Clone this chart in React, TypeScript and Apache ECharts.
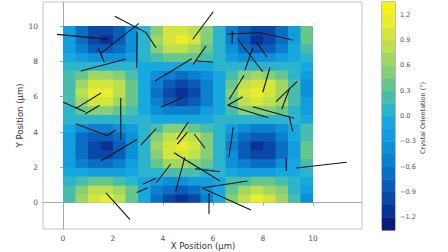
import { useEffect, useRef } from "react";
import * as echarts from "echarts";

const X_TICKS = [0, 2, 4, 6, 8, 10];
const Y_TICKS = [0, 2, 4, 6, 8, 10];
const CBAR_TICKS = [-1.2, -0.9, -0.6, -0.3, 0, 0.3, 0.6, 0.9, 1.2];
const LEVELS = [-1.35, -1.2, -1.05, -0.9, -0.75, -0.6, -0.45, -0.3, -0.15, 0, 0.15, 0.3, 0.45, 0.6, 0.75, 0.9, 1.05, 1.2, 1.35];
const BAND_COLORS = [
  "#0a1c78", "#0a3296", "#0a48a8", "#0a5cb8", "#0a6ec4", "#0a80cf", "#0c90d8", "#129ede", "#18a8e0",
  "#2cb4cc", "#48bdac", "#66c68c", "#86cf78", "#a2d664", "#bde050", "#d4e63e", "#e8ee2c", "#f3f31b",
];
const CELL = 0.5;
// rows from y = 0 (bottom) to y = 10 (top), columns from x = 0 to x = 10
const FIELD = [
  [0.27, 0.73, 1.02, 1.05, 0.83, 0.41, -0.12, -0.61, -0.96, -1.07, -0.92, -0.55, -0.03, 0.48, 0.88, 1.07, 0.98, 0.67, 0.18, -0.34],
  [0.2, 0.54, 0.76, 0.78, 0.62, 0.3, -0.09, -0.46, -0.72, -0.8, -0.69, -0.41, -0.02, 0.36, 0.66, 0.8, 0.74, 0.5, 0.14, -0.26],
  [0.09, 0.24, 0.33, 0.34, 0.27, 0.13, -0.04, -0.2, -0.32, -0.35, -0.3, -0.18, -0.01, 0.16, 0.29, 0.35, 0.32, 0.22, 0.06, -0.11],
  [-0.05, -0.14, -0.19, -0.2, -0.16, -0.08, 0.02, 0.11, 0.18, 0.2, 0.17, 0.1, 0.01, -0.09, -0.16, -0.2, -0.18, -0.13, -0.03, 0.06],
  [-0.17, -0.47, -0.66, -0.68, -0.54, -0.26, 0.08, 0.39, 0.62, 0.69, 0.59, 0.35, 0.02, -0.31, -0.57, -0.69, -0.63, -0.43, -0.12, 0.22],
  [-0.25, -0.69, -0.96, -0.99, -0.79, -0.38, 0.11, 0.58, 0.91, 1.01, 0.87, 0.52, 0.03, -0.45, -0.83, -1.01, -0.93, -0.64, -0.17, 0.32],
  [-0.27, -0.74, -1.04, -1.07, -0.85, -0.41, 0.12, 0.62, 0.98, 1.09, 0.94, 0.56, 0.03, -0.49, -0.89, -1.09, -1.0, -0.69, -0.19, 0.35],
  [-0.23, -0.61, -0.86, -0.88, -0.7, -0.34, 0.1, 0.51, 0.81, 0.9, 0.77, 0.46, 0.03, -0.41, -0.74, -0.9, -0.83, -0.57, -0.15, 0.29],
  [-0.13, -0.34, -0.48, -0.49, -0.39, -0.19, 0.06, 0.29, 0.45, 0.5, 0.43, 0.26, 0.02, -0.23, -0.41, -0.5, -0.46, -0.32, -0.09, 0.16],
  [0.01, 0.03, 0.04, 0.04, 0.03, 0.02, 0.0, -0.02, -0.04, -0.04, -0.03, -0.02, 0.0, 0.02, 0.03, 0.04, 0.04, 0.03, 0.01, -0.01],
  [0.14, 0.38, 0.53, 0.55, 0.44, 0.21, -0.06, -0.32, -0.5, -0.56, -0.48, -0.29, -0.02, 0.25, 0.46, 0.56, 0.52, 0.35, 0.1, -0.18],
  [0.24, 0.65, 0.9, 0.93, 0.74, 0.36, -0.1, -0.54, -0.86, -0.95, -0.82, -0.48, -0.03, 0.43, 0.78, 0.95, 0.87, 0.6, 0.16, -0.3],
  [0.28, 0.75, 1.05, 1.08, 0.86, 0.42, -0.12, -0.63, -0.99, -1.1, -0.95, -0.56, -0.03, 0.5, 0.9, 1.1, 1.01, 0.69, 0.19, -0.35],
  [0.25, 0.67, 0.93, 0.96, 0.76, 0.37, -0.11, -0.56, -0.88, -0.98, -0.84, -0.5, -0.03, 0.44, 0.8, 0.98, 0.9, 0.62, 0.17, -0.31],
  [0.16, 0.43, 0.6, 0.62, 0.49, 0.24, -0.07, -0.36, -0.57, -0.63, -0.54, -0.32, -0.02, 0.28, 0.52, 0.63, 0.58, 0.4, 0.11, -0.2],
  [0.03, 0.07, 0.1, 0.1, 0.08, 0.04, -0.01, -0.06, -0.09, -0.1, -0.09, -0.05, 0.0, 0.05, 0.08, 0.1, 0.09, 0.06, 0.02, -0.03],
  [-0.11, -0.29, -0.41, -0.42, -0.34, -0.16, 0.05, 0.25, 0.39, 0.43, 0.37, 0.22, 0.01, -0.19, -0.35, -0.43, -0.4, -0.27, -0.07, 0.14],
  [-0.22, -0.58, -0.82, -0.84, -0.67, -0.33, 0.09, 0.49, 0.77, 0.86, 0.74, 0.44, 0.03, -0.39, -0.71, -0.86, -0.79, -0.54, -0.15, 0.28],
  [-0.27, -0.74, -1.04, -1.07, -0.85, -0.41, 0.12, 0.62, 0.98, 1.09, 0.94, 0.56, 0.03, -0.49, -0.89, -1.09, -1.0, -0.69, -0.19, 0.35],
  [-0.26, -0.7, -0.98, -1.01, -0.8, -0.39, 0.11, 0.59, 0.93, 1.03, 0.89, 0.53, 0.03, -0.46, -0.84, -1.03, -0.95, -0.65, -0.18, 0.33],
];
// orientation segments [x1, y1, x2, y2]
const SEGMENTS = [
  [-0.24, 9.53, 1.77, 9.26],
  [2.07, 10.55, 3.31, 9.64],
  [3.31, 9.64, 3.72, 8.77],
  [1.51, 8.45, 3.04, 10.15],
  [1.41, 8.77, 1.65, 7.95],
  [2.96, 9.64, 2.95, 7.64],
  [0.71, 7.45, 2.52, 8.13],
  [3.68, 6.89, 5.15, 8.15],
  [0.01, 5.68, 0.88, 5.15],
  [0.52, 5.34, 1.52, 6.21],
  [0.88, 5.02, 1.47, 5.51],
  [2.31, 5.93, 2.31, 3.55],
  [3.91, 5.4, 4.79, 5.96],
  [0.52, 4.47, 1.77, 3.79],
  [1.77, 3.79, 2.11, 4.13],
  [1.51, 2.36, 2.97, 3.59],
  [3.12, 3.27, 3.73, 4.19],
  [3.73, 1.13, 4.31, 2.19],
  [3.19, 1.04, 3.72, 1.38],
  [2.95, 0.57, 3.39, 0.85],
  [1.72, 0.55, 2.68, -0.96],
  [4.51, 0.65, 4.87, 2.57],
  [4.44, 2.83, 6.28, 1.23],
  [4.55, 3.59, 5.01, 4.57],
  [4.57, 3.31, 4.97, 3.98],
  [5.25, 3.89, 5.68, 3.08],
  [5.28, 1.92, 6.28, 1.75],
  [5.56, 0.83, 7.37, 1.23],
  [5.56, 0.83, 7.52, -0.41],
  [5.84, 0.53, 5.84, -0.64],
  [6.81, 4.27, 6.64, 2.6],
  [8.93, 2.51, 8.93, 1.79],
  [9.32, 1.96, 11.35, 2.29],
  [5.19, 9.25, 6.01, 10.81],
  [5.21, 7.83, 5.72, 8.87],
  [5.35, 8.02, 5.99, 7.96],
  [6.55, 9.55, 7.88, 9.62],
  [7.88, 9.62, 9.19, 9.21],
  [6.77, 9.73, 6.77, 8.98],
  [6.99, 9.25, 7.99, 7.41],
  [7.59, 8.74, 7.28, 7.51],
  [7.72, 9.11, 8.15, 8.26],
  [8.28, 7.66, 7.99, 6.25],
  [7.24, 7.21, 6.65, 5.85],
  [6.61, 5.53, 7.19, 6.0],
  [6.57, 5.53, 8.21, 4.81],
  [7.59, 5.43, 9.24, 4.78],
  [8.52, 5.72, 9.37, 6.87],
  [8.75, 5.29, 9.05, 6.42],
  [9.05, 4.87, 9.19, 4.02],
];

const FONT = "DejaVu Sans";

function colorFor(v: number): string {
  for (let i = 0; i < BAND_COLORS.length; i++) {
    if (v < LEVELS[i + 1]) return BAND_COLORS[i];
  }
  return BAND_COLORS[BAND_COLORS.length - 1];
}

function fmtMinus(v: number): string {
  const s = (Math.abs(v) < 1e-9 ? 0 : v).toFixed(1);
  return s.replace("-", "\u2212");
}

export default function App() {
  const ref = useRef<HTMLDivElement>(null);
  useEffect(() => {
    if (!ref.current) return;
    const chart = echarts.init(ref.current, undefined, { renderer: "svg" });
    const cells: number[][] = [];
    FIELD.forEach((row, j) => row.forEach((v, i) => cells.push([i * CELL, j * CELL, v])));
    const bands = BAND_COLORS.map((_, i) => [0.5, (LEVELS[i] + LEVELS[i + 1]) / 2, i]);

    const axisTickStyle = { show: true, inside: false, length: 3, lineStyle: { color: "#a8a8a8", width: 1 } };
    chart.setOption({
      animation: false,
      backgroundColor: "#ffffff",
      grid: [
        { left: 43, top: 2, width: 319, height: 227, show: true, borderColor: "#c4c4c4", borderWidth: 1, backgroundColor: "transparent" },
        { left: 382, top: 2, width: 13, height: 228, show: true, borderColor: "#555555", borderWidth: 0.8, backgroundColor: "transparent" },
      ],
      xAxis: [
        {
          type: "value", gridIndex: 0, min: -0.8, max: 11.96,
          axisLine: { show: true, lineStyle: { color: "#a8a8a8" } },
          axisTick: { ...axisTickStyle, customValues: X_TICKS },
          axisLabel: { customValues: X_TICKS, color: "#555", fontSize: 7.5, margin: 5, fontFamily: FONT },
          splitLine: { show: false },
        },
        { type: "value", gridIndex: 1, min: 0, max: 1, show: false },
      ],
      yAxis: [
        {
          type: "value", gridIndex: 0, min: -1.49, max: 11.36,
          axisLine: { show: true, lineStyle: { color: "#a8a8a8" } },
          axisTick: { ...axisTickStyle, customValues: Y_TICKS },
          axisLabel: { customValues: Y_TICKS, color: "#555", fontSize: 7.5, margin: 5, fontFamily: FONT },
          splitLine: { show: false },
        },
        {
          type: "value", gridIndex: 1, min: -1.35, max: 1.35, position: "right",
          axisLine: { show: false },
          axisTick: { show: true, inside: false, length: 3, lineStyle: { color: "#666" }, customValues: CBAR_TICKS },
          axisLabel: { customValues: CBAR_TICKS, color: "#555", fontSize: 6.5, margin: 5, fontFamily: FONT, formatter: (v: number) => fmtMinus(v) },
          splitLine: { show: false },
        },
      ],
      graphic: [
        { type: "text", x: 203, y: 246, style: { text: "X Position (\u03bcm)", fill: "#333333", fontSize: 8.5, fontFamily: FONT, align: "center", verticalAlign: "middle" } },
        { type: "text", x: 20, y: 115.5, rotation: Math.PI / 2, style: { text: "Y Position (\u03bcm)", fill: "#333333", fontSize: 8.5, fontFamily: FONT, align: "center", verticalAlign: "middle" } },
        { type: "text", x: 423, y: 118, rotation: Math.PI / 2, style: { text: "Crystal Orientation (\u00b0)", fill: "#444444", fontSize: 6.5, fontFamily: FONT, align: "center", verticalAlign: "middle" } },
      ],
      series: [
        {
          type: "custom", xAxisIndex: 0, yAxisIndex: 0, silent: true, data: cells,
          encode: { x: 0, y: 1 },
          renderItem: (_p: any, api: any) => {
            const x0 = api.value(0), y0 = api.value(1), v = api.value(2);
            const a = api.coord([x0, y0 + CELL]);
            const b = api.coord([x0 + CELL, y0]);
            const padW = x0 + CELL < 10 ? 0.6 : 0;
            const padH = y0 > 0 ? 0.6 : 0;
            return { type: "rect", shape: { x: a[0], y: a[1], width: b[0] - a[0] + padW, height: b[1] - a[1] + padH }, style: { fill: colorFor(v) } };
          },
        },
        {
          type: "custom", xAxisIndex: 0, yAxisIndex: 0, silent: true, data: SEGMENTS,
          encode: { x: [0, 2], y: [1, 3] },
          renderItem: (_p: any, api: any) => {
            const p1 = api.coord([api.value(0), api.value(1)]);
            const p2 = api.coord([api.value(2), api.value(3)]);
            return { type: "line", shape: { x1: p1[0], y1: p1[1], x2: p2[0], y2: p2[1] }, style: { stroke: "#111", lineWidth: 1.1 } };
          },
        },
        {
          type: "custom", xAxisIndex: 1, yAxisIndex: 1, silent: true, data: bands,
          encode: { x: 0, y: 1 },
          renderItem: (_p: any, api: any) => {
            const i = api.value(2);
            const a = api.coord([0, LEVELS[i + 1]]);
            const b = api.coord([1, LEVELS[i]]);
            return { type: "rect", shape: { x: a[0], y: a[1], width: b[0] - a[0], height: b[1] - a[1] + 0.4 }, style: { fill: BAND_COLORS[i] } };
          },
        },
      ],
    });
    return () => chart.dispose();
  }, []);
  return <div ref={ref} style={{ position: "fixed", left: 0, top: 0, width: 448, height: 252 }} />;
}
